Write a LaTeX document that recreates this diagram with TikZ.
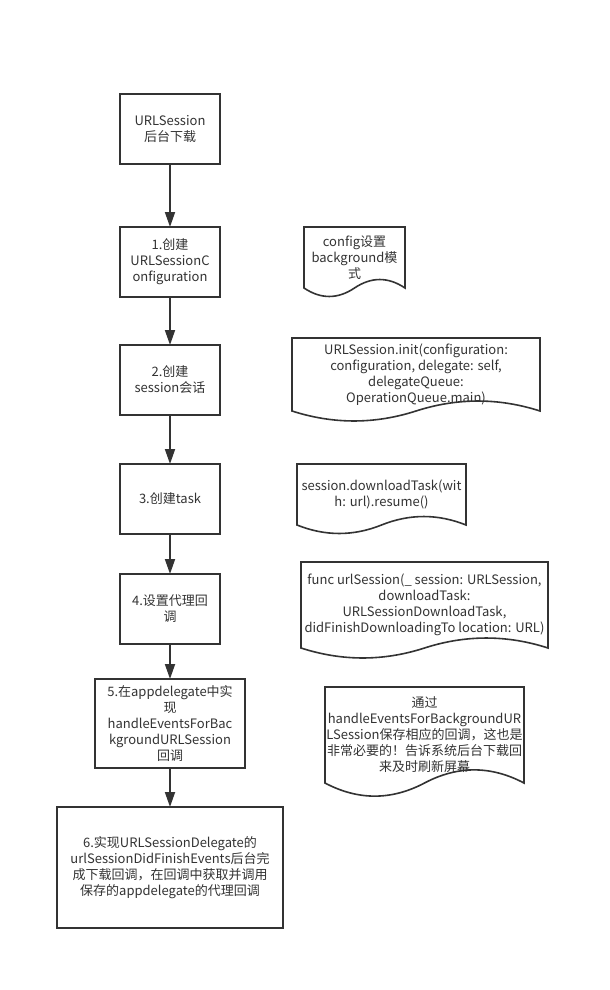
\documentclass[tikz,border=0pt]{standalone}
\usepackage{fontspec}
\setmainfont{Noto Sans CJK SC}
\usetikzlibrary{calc,arrows.meta}
\definecolor{ink}{HTML}{333333}
\tikzset{
  ln/.style={draw=ink, line width=1.6pt, line join=miter},
  stepbox/.style={ln, rectangle, inner sep=0pt, outer sep=0pt, align=center, text=ink,
     font=\fontsize{13}{16}\selectfont},
  docbox/.style={rectangle, inner sep=0pt, outer sep=0pt, align=center, text=ink,
     font=\fontsize{13}{16}\selectfont},
  flow/.style={draw=ink, line width=1.8pt, -{Triangle[length=15pt,width=10pt]}}
}
\newcommand\docwave[2]{%
  \draw[ln] (#1.north west) -- (#1.north east) -- (#1.south east)
   .. controls ($(#1.south east)!1/3!(#1.south)+(0,-#2)$) and ($(#1.south east)!2/3!(#1.south)+(0,-#2)$) .. (#1.south)
   .. controls ($(#1.south)!1/3!(#1.south west)+(0,#2)$) and ($(#1.south)!2/3!(#1.south west)+(0,#2)$) .. (#1.south west) -- cycle;}
\begin{document}
\begin{tikzpicture}[x=1pt,y=-1pt]
\useasboundingbox[fill=white] (0,0) rectangle (610,990);
% left column
\node[stepbox, minimum width=100pt, minimum height=70pt] (b0) at (170,129) {URLSession\\后台下载};
\node[stepbox, minimum width=100pt, minimum height=70pt] (b1) at (170,262) {1.创建\\URLSessionC\\onfiguration};
\node[stepbox, minimum width=100pt, minimum height=70pt] (b2) at (170,380) {2.创建\\session会话};
\node[stepbox, minimum width=100pt, minimum height=70pt] (b3) at (170,499) {3.创建task};
\node[stepbox, minimum width=100pt, minimum height=70pt] (b4) at (170,609) {4.设置代理回\\调};
\node[stepbox, minimum width=150pt, minimum height=89pt] (b5) at (170,723.5) {5.在appdelegate中实\\现\\handleEventsForBac\\kgroundURLSession\\回调};
\node[stepbox, minimum width=226pt, minimum height=121pt] (b6) at (170,867.5) {6.实现URLSessionDelegate的\\urlSessionDidFinishEvents后台完\\成下载回调，在回调中获取并调用\\保存的appdelegate的代理回调};
% arrows
\draw[flow] (b0) -- (b1);
\draw[flow] (b1) -- (b2);
\draw[flow] (b2) -- (b3);
\draw[flow] (b3) -- (b4);
\draw[flow] (b4) -- (b5);
\draw[flow] (b5) -- (b6);
% documents
\node[docbox, minimum width=101pt, minimum height=61pt] (d1) at (354.5,257.5) {config设置\\background模\\式};
\node[docbox, minimum width=248pt, minimum height=73pt] (d2) at (416,374.5) {URLSession.init(configuration:\\configuration, delegate: self,\\delegateQueue:\\OperationQueue.main)};
\node[docbox, minimum width=169pt, minimum height=61pt] (d3) at (381.5,494.5) {session.downloadTask(wit\\h: url).resume()};
\node[docbox, minimum width=247pt, minimum height=86pt] (d4) at (424.5,605) {func urlSession(\_ session: URLSession,\\downloadTask:\\URLSessionDownloadTask,\\didFinishDownloadingTo location: URL)};
\node[docbox, minimum width=199pt, minimum height=96pt] (d5) at (424.5,735) {通过\\handleEventsForBackgroundUR\\LSession保存相应的回调，这也是\\非常必要的！告诉系统后台下载回\\来及时刷新屏幕};
\docwave{d1}{11.3}
\docwave{d2}{13.3}
\docwave{d3}{11.3}
\docwave{d4}{13.3}
\docwave{d5}{17.5}
\end{tikzpicture}
\end{document}
